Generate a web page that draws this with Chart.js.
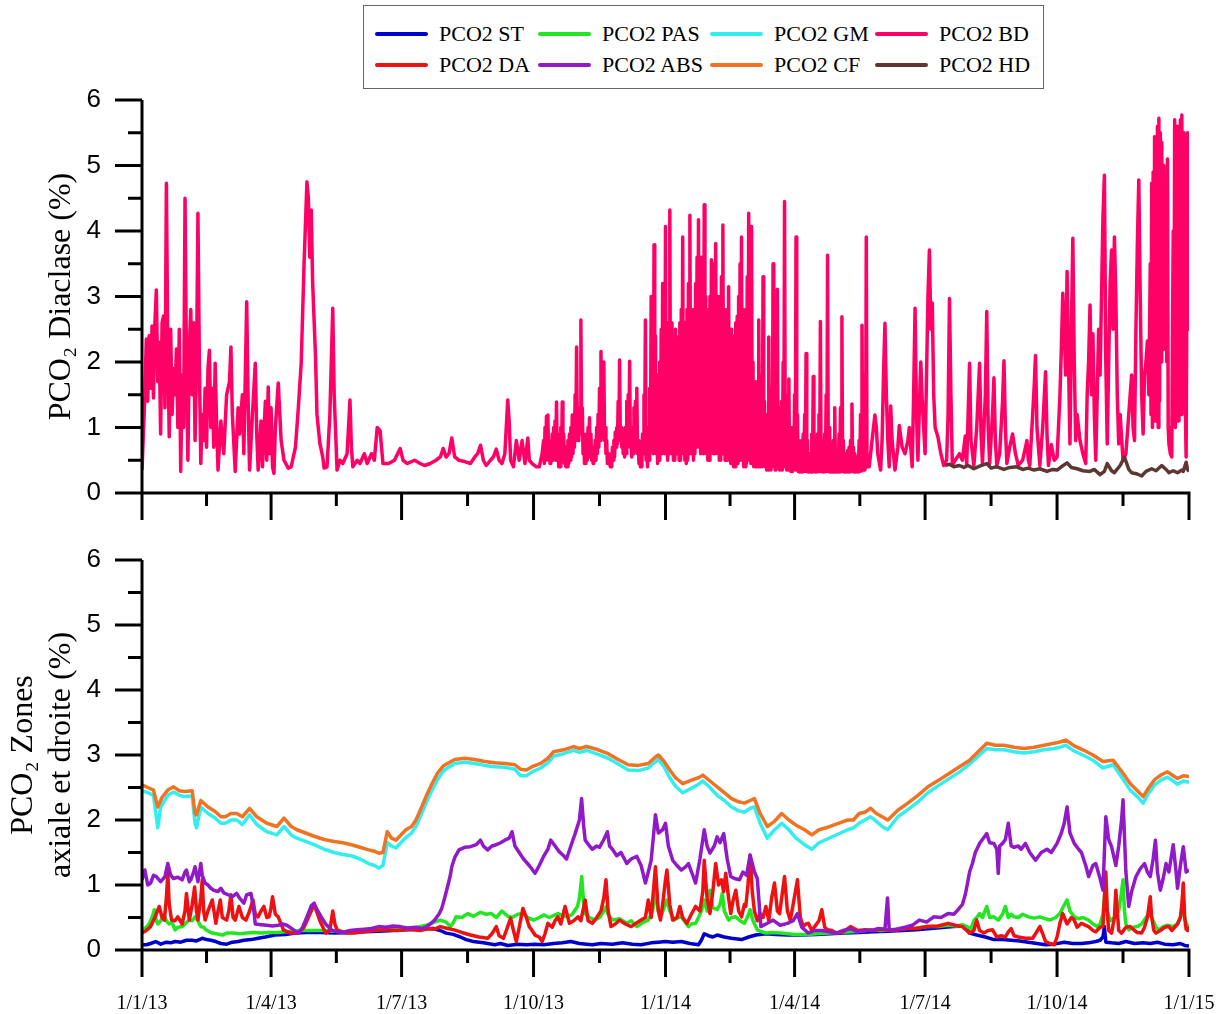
<!DOCTYPE html>
<html>
<head>
<meta charset="utf-8">
<script src="https://cdn.jsdelivr.net/npm/chart.js"></script>
<style>
  html, body { margin: 0; padding: 0; background: #fff; }
  #page { position: relative; width: 1225px; height: 1014px; background: #fff; overflow: hidden; }
  #legend { position: absolute; left: 363px; top: 5px; width: 679px; height: 82px; border: 1px solid #666; }
  .item { position: absolute; height: 28px; display: flex; align-items: center; font-family: 'Liberation Serif', serif; font-size: 22px; color: #000; white-space: nowrap; }
  .item span.line { display: inline-block; width: 53px; height: 4px; border-radius: 2px; margin-right: 11px; }
  #topBox { position: absolute; left: 0; top: 80px; width: 1225px; height: 450px; }
  #bottomBox { position: absolute; left: 0; top: 530px; width: 1225px; height: 484px; }
</style>
</head>
<body>
<div id="page">
  <div id="legend"></div>
  <div id="topBox"><canvas id="topChart"></canvas></div>
  <div id="bottomBox"><canvas id="bottomChart"></canvas></div>
</div>
<script>
// x values are days since 1/1/13
const xTickDays = [0, 90, 181, 273, 365, 455, 546, 638, 730];
const xTickLabels = ['1/1/13', '1/4/13', '1/7/13', '1/10/13', '1/1/14', '1/4/14', '1/7/14', '1/10/14', '1/1/15'];
const xMinorDays = [45, 135.5, 227, 319, 410, 500.5, 592, 684];

const seriesNames = ['PCO2 ST', 'PCO2 PAS', 'PCO2 GM', 'PCO2 BD', 'PCO2 DA', 'PCO2 ABS', 'PCO2 CF', 'PCO2 HD'];
const seriesColors = ['rgb(0,0,205)', 'rgb(34,230,34)', 'rgb(51,238,238)', 'rgb(255,0,102)',
                      'rgb(238,17,17)', 'rgb(145,25,200)', 'rgb(240,115,35)', 'rgb(95,55,50)'];

// top panel, PCO2 BD read in four stretches
const bdSpring2013 = [[0,0.35],[2,1.5],[3,2.35],[4,1.4],[5,2.4],[6,1.6],[7,2.55],[8,1.45],[9,2.6],[10,3.1],[11,1.7],[12,2.3],[13,0.9],[14,2.6],[15,2.7],[16,1.3],[17,4.73],[18,2.2],[19,0.86],[20,2.5],[21,1.2],[22,1.9],[23,1.5],[24,2.2],[25,1.0],[26,2.5],[27,0.33],[28,1.8],[29,1.0],[30,4.5],[31,2.0],[32,0.5],[33,2.2],[34,2.8],[35,1.5],[36,2.6],[37,0.8],[38,1.9],[39,4.27],[40,2.0],[41,0.45],[42,1.2],[43,0.8],[44,1.6],[45,0.7],[46,1.9],[47,2.18],[48,1.0],[49,1.6],[50,0.7],[51,1.98],[52,1.1],[53,0.35],[55,1.1],[57,0.6],[59,1.5],[61,1.7],[62,2.23],[63,1.2],[65,0.33],[67,1.3],[68,0.9],[70,1.5],[71,0.6],[73,2.92],[74,1.4],[75,0.35],[77,1.2],[79,1.98],[80,0.9],[81,0.35],[83,1.1],[84,0.4],[86,1.4],[87,0.5],[88,1.62],[89,0.6],[90,1.3],[91,0.4],[92,0.3],[93,1.0],[95,1.68],[97,0.8],[99,0.5],[102,0.38],[104,0.4],[107,0.7],[109,1.3],[111,1.98],[113,3.5],[115,4.75],[116,4.5],[117,3.6],[118,4.32],[119,3.2],[121,2.08],[122,1.2],[124,0.76],[126,0.55],[127,0.38],[129,0.4],[131,1.2],[133,2.82],[134,1.5],[136,0.35],[138,0.5],[140,0.45],[143,0.6],[145,1.42],[146,0.7],[147,0.4],[150,0.5],[152,0.45],[155,0.6],[157,0.45],[160,0.6],[162,0.5],[164,1.0],[166,0.95],[168,0.45],[172,0.45],[176,0.5],[180,0.68],[182,0.5],[185,0.45],[190,0.5],[194,0.45],[197,0.42],[201,0.45],[205,0.5],[208,0.55],[210,0.68],[212,0.55],[214,0.6],[216,0.84],[218,0.55],[221,0.5],[225,0.48],[229,0.45],[232,0.55],[234,0.6],[236,0.73],[238,0.5],[240,0.42],[243,0.5],[245,0.55],[247,0.67],[249,0.5],[251,0.45],[253,0.6],[255,1.42],[256,1.1],[257,0.5],[259,0.4],[261,0.8],[263,0.5],[265,0.8],[267,0.45],[269,0.84],[270,0.5],[272,0.45],[275,0.4],[277,0.4],[279,0.6]];
const bdAutumn2013 = [[280,0.8],[280.5,0.45],[281,1.0],[281.5,0.5],[282,1.17],[282.5,0.6],[283,1.19],[283.5,0.5],[284,0.8],[284.5,0.45],[285,0.7],[285.5,0.5],[286,0.9],[286.5,0.5],[287,1.0],[287.5,0.55],[288,1.1],[288.5,0.5],[289,1.39],[289.5,0.6],[290,0.9],[290.5,0.4],[291,0.6],[291.5,0.4],[292,1.0],[292.5,0.5],[293,1.39],[293.5,0.55],[294,0.9],[294.5,0.45],[295,0.7],[295.5,0.4],[296,0.6],[296.5,0.4],[297,0.8],[297.5,0.45],[298,0.9],[298.5,0.5],[299,1.0],[299.5,0.55],[300,1.19],[300.5,0.6],[301,1.0],[301.5,0.7],[302,1.5],[302.5,0.8],[303,2.23],[303.5,0.9],[304,1.3],[304.5,0.8],[305,1.2],[305.5,0.9],[306,2.64],[306.5,1.0],[307,1.3],[307.5,0.6],[308,0.9],[308.5,0.45],[309,0.7],[309.5,0.45],[310,0.9],[310.5,0.5],[311,1.0],[311.5,0.6],[312,1.15],[312.5,0.55],[313,0.9],[313.5,0.5],[314,0.7],[314.5,0.45],[315,0.6],[315.5,0.5],[316,0.8],[316.5,0.5],[317,1.0],[317.5,0.6],[318,1.2],[318.5,0.7],[319,1.6],[319.5,0.8],[320,2.16],[320.5,0.9],[321,1.3],[321.5,1.0],[322,2.0],[322.5,0.8],[323,1.0],[323.5,0.6],[324,0.8],[324.5,0.45],[325,0.6],[325.5,0.45],[326,0.5],[326.5,0.4],[327,0.45],[327.5,0.4],[328,0.7],[328.5,0.5],[329,0.8],[329.5,0.55],[330,0.93],[330.5,0.7],[331,1.0],[331.5,0.75],[332,1.4],[332.5,0.85],[333,2.03],[333.5,0.8],[334,1.0],[334.5,0.7],[335,0.9],[335.5,0.6],[336,0.85],[336.5,0.55],[337,1.0],[337.5,0.6],[338,1.4],[338.5,0.7],[339,1.5],[339.5,0.8],[340,2.01],[340.5,0.7],[341,0.78],[341.5,0.55],[342,1.0],[342.5,0.6],[343,1.3],[343.5,0.7],[344,1.4],[344.5,0.8],[345,1.6],[345.5,0.6],[346,0.8],[346.5,0.45],[347,0.6],[347.5,0.4],[348,0.5],[348.5,0.4],[349,0.9],[349.5,0.6],[350,1.5],[350.5,0.9],[351,2.64],[351.5,0.5],[352,0.6],[352.5,0.4],[353,1.0],[353.5,0.5],[354,1.6],[354.5,0.7],[355,3.0],[355.5,0.8]];
const bdWinter2014 = [[356,2.0],[356.5,0.6],[357,3.79],[357.5,0.7],[358,2.4],[358.5,0.6],[359,1.5],[359.5,0.45],[360,1.8],[360.5,0.5],[361,2.0],[361.5,0.6],[362,2.5],[362.5,0.6],[363,3.2],[363.5,0.7],[364,2.8],[364.5,0.6],[365,4.07],[365.5,0.7],[366,2.2],[366.5,0.5],[367,2.6],[367.5,0.6],[368,4.32],[368.5,0.8],[369,2.6],[369.5,0.6],[370,2.0],[370.5,0.5],[371,2.3],[371.5,0.5],[372,2.5],[372.5,0.6],[373,2.38],[373.5,0.6],[374,2.2],[374.5,0.5],[375,2.6],[375.5,0.5],[376,2.8],[376.5,0.6],[377,3.91],[377.5,0.7],[378,2.6],[378.5,0.5],[379,2.4],[379.5,0.45],[380,2.8],[380.5,0.5],[381,3.2],[381.5,0.6],[382,4.24],[382.5,0.8],[383,2.8],[383.5,0.6],[384,2.5],[384.5,0.5],[385,2.8],[385.5,0.6],[386,3.2],[386.5,0.7],[387,3.6],[387.5,0.8],[388,4.17],[388.5,0.7],[389,3.0],[389.5,0.6],[390,3.6],[390.5,0.7],[391,3.4],[391.5,0.6],[392,4.4],[392.5,0.9],[393,3.0],[393.5,0.6],[394,2.6],[394.5,0.5],[395,2.8],[395.5,0.5],[396,3.0],[396.5,0.6],[397,3.56],[397.5,0.7],[398,3.5],[398.5,0.6],[399,3.0],[399.5,0.6],[400,3.81],[400.5,0.7],[401,3.0],[401.5,0.6],[402,2.8],[402.5,0.5],[403,3.0],[403.5,0.5],[404,3.3],[404.5,0.6],[405,4.09],[405.5,0.6],[406,2.8],[406.5,0.5],[407,2.6],[407.5,0.5],[408,2.8],[408.5,0.5],[409,3.15],[409.5,0.5],[410,2.4],[410.5,0.45],[411,2.5],[411.5,0.45],[412,2.3],[412.5,0.4],[413,2.4],[413.5,0.4],[414,2.6],[414.5,0.45],[415,2.7],[415.5,0.45],[416,3.0],[416.5,0.5],[417,3.5],[417.5,0.5],[418,3.91],[418.5,0.5],[419,2.8],[419.5,0.4],[420,2.5],[420.5,0.4],[421,2.8],[421.5,0.45],[422,3.3],[422.5,0.5],[423,4.27],[423.5,0.5],[424,3.4],[424.5,0.45],[425,4.07],[425.5,0.5],[426,2.0],[426.5,0.4],[427,1.4],[427.5,0.4],[428,1.7],[428.5,0.4],[429,1.2],[429.5,0.4],[430,2.64],[430.5,0.4],[431,1.5],[431.5,0.4],[432,1.8],[432.5,0.4],[433,3.3],[433.5,0.45],[434,1.4],[434.5,0.4],[435,1.06],[435.5,0.35],[436,1.2],[436.5,0.35],[437,2.38],[437.5,0.4],[438,1.3],[438.5,0.35],[439,1.6],[439.5,0.4],[440,3.5],[440.5,0.4],[441,1.2],[441.5,0.35],[442,2.8],[442.5,0.4],[443,3.11],[443.5,0.4],[444,1.3],[444.5,0.35],[445,1.0],[445.5,0.35],[446,1.4],[446.5,0.35],[447,2.0],[447.5,0.4],[448,4.45],[448.5,0.4],[449,1.5],[449.5,0.35],[450,1.2],[450.5,0.35],[451,1.74],[451.5,0.35],[452,1.0],[452.5,0.33],[453,0.8],[453.5,0.33],[454,1.0],[454.5,0.35],[455,1.5],[455.5,0.35],[456,3.91],[456.5,0.35],[457,1.2],[457.5,0.33],[458,0.8],[458.5,0.32],[459,0.7],[459.5,0.32],[460,0.8],[460.5,0.32],[461,0.9],[461.5,0.33],[462,1.2],[462.5,0.33],[463,2.13],[463.5,0.33],[464,0.8],[464.5,0.32],[465,0.6],[465.5,0.32],[466,0.6],[466.5,0.32],[467,0.9],[467.5,0.32],[468,1.78],[468.5,0.33],[469,0.7],[469.5,0.32],[470,0.6],[470.5,0.32],[471,0.9],[471.5,0.33],[472,1.2],[472.5,0.33],[473,2.62],[473.5,0.33],[474,0.8],[474.5,0.32],[475,0.6],[475.5,0.32],[476,0.9],[476.5,0.33],[477,1.5],[477.5,0.33],[478,3.63],[478.5,0.33],[479,1.0],[479.5,0.32],[480,0.6],[480.5,0.32],[481,0.7],[481.5,0.32],[482,0.8],[482.5,0.32],[483,1.3],[483.5,0.32],[484,0.6],[484.5,0.32],[485,0.55],[485.5,0.32],[486,0.9],[486.5,0.32],[487,1.3],[487.5,0.33],[488,2.69],[488.5,0.33],[489,0.8],[489.5,0.32],[490,0.55],[490.5,0.32],[491,0.6],[491.5,0.32],[492,0.65],[492.5,0.32],[493,0.7],[493.5,0.32],[494,0.8],[494.5,0.33],[495,1.36],[495.5,0.33],[496,0.7],[496.5,0.32],[497,0.6],[497.5,0.32],[498,0.55],[498.5,0.32],[499,0.55],[499.5,0.32],[500,0.8],[500.5,0.33],[501,1.2],[501.5,0.34],[502,2.56],[502.5,0.35],[503,1.2],[503.5,0.35],[504,1.8],[504.5,0.38],[505,3.91],[505.5,0.4]];
const bdLate2014 = [[507,0.4],[509,0.8],[511,1.19],[512,1.0],[513,0.6],[515,0.35],[516,0.8],[517,1.8],[518,2.59],[519,1.5],[520,0.8],[521,0.4],[522,1.33],[523,0.8],[525,0.35],[527,0.7],[528,1.03],[530,0.7],[532,0.6],[534,0.8],[535,1.0],[536,0.7],[537,0.4],[538,1.5],[539,2.82],[540,1.2],[541,0.5],[542,1.3],[543,2.0],[544,1.4],[546,0.6],[547,1.8],[548,3.0],[549,3.71],[550,2.5],[551,2.9],[552,1.5],[553,1.0],[555,0.85],[557,0.6],[559,0.42],[561,0.5],[562,1.17],[563,2.97],[564,1.5],[565,0.42],[567,0.5],[570,0.6],[572,0.5],[574,0.87],[575,0.42],[576,1.2],[577,1.98],[578,0.8],[580,0.42],[582,1.0],[584,1.98],[585,0.9],[586,0.45],[588,1.5],[589,2.77],[590,1.0],[591,0.45],[593,1.2],[594,1.76],[595,0.8],[596,0.42],[598,0.6],[600,1.4],[601,2.02],[602,1.0],[603,0.45],[605,0.7],[607,0.9],[609,0.6],[611,0.42],[614,0.5],[617,0.8],[618,0.5],[619,0.42],[621,1.2],[622,1.6],[623,2.1],[624,1.0],[626,0.42],[628,1.0],[630,1.85],[631,0.9],[632,0.42],[634,0.74],[636,0.5],[638,0.55],[639,1.0],[640,1.48],[641,2.2],[642,3.05],[643,2.5],[644,1.8],[645,3.38],[646,2.0],[647,0.75],[648,2.5],[649,3.89],[650,2.0],[651,0.8],[652,1.2],[654,0.8],[656,0.6],[658,0.45],[659,1.5],[660,2.0],[661,2.87],[662,1.5],[663,2.43],[664,1.2],[665,0.5],[666,1.5],[667,2.5],[668,1.8],[669,3.0],[670,4.2],[671,4.85],[672,2.0],[673,0.75],[674,2.0],[675,3.2],[676,3.71],[677,2.5],[678,3.91],[679,3.0],[680,1.5],[681,0.75],[682,1.2],[684,0.5],[686,0.6],[688,1.2],[689,1.5],[690,1.8],[691,1.0],[692,0.8],[693,2.5],[694,3.8],[695,4.78],[696,3.0],[697,1.5],[698,0.9],[699,1.8],[700,2.0],[701,2.32],[702,1.5],[703,3.5],[703.5,1.2],[704,4.73],[704.5,1.0],[705,4.9],[705.5,1.3],[706,5.44],[706.5,1.1],[707,5.3],[707.5,1.5],[708,5.6],[708.5,1.0],[709,5.72],[709.5,1.4],[710,5.5],[710.5,2.0],[711,5.35],[711.5,2.5],[712,5.0],[712.5,2.2],[713,4.6],[713.5,3.3],[714,4.8],[714.5,2.0],[715,5.1],[715.5,1.0],[716,0.75],[717,0.6],[718,0.55],[718.5,2.5],[719,4.0],[719.5,1.2],[720,5.7],[720.5,1.0],[721,5.3],[721.5,1.5],[722,5.6],[722.5,1.1],[723,5.5],[723.5,1.4],[724,5.7],[724.5,1.2],[725,5.77],[725.5,1.6],[726,5.5],[726.5,2.0],[727,2.0],[728,0.55],[729,5.5],[729.5,2.5],[730,3.85]];
const pco2BD = [].concat(bdSpring2013, bdAutumn2013, bdWinter2014, bdLate2014);
const pco2HD = [[560,0.42],[563,0.44],[566,0.4],[570,0.42],[573,0.39],[576,0.42],[580,0.37],[584,0.41],[589,0.45],[592,0.38],[596,0.4],[601,0.36],[605,0.39],[610,0.4],[614,0.36],[618,0.38],[622,0.35],[626,0.37],[631,0.33],[635,0.36],[638,0.35],[641,0.4],[645,0.46],[648,0.39],[652,0.37],[656,0.34],[661,0.33],[664,0.36],[668,0.28],[671,0.33],[673,0.45],[676,0.34],[678,0.31],[682,0.42],[685,0.55],[688,0.36],[690,0.31],[694,0.29],[697,0.26],[700,0.33],[704,0.37],[707,0.34],[711,0.42],[714,0.36],[716,0.31],[719,0.34],[722,0.31],[725,0.35],[726,0.33],[728,0.47],[729,0.36],[730,0.33]];

// bottom panel
const pco2ST = [[0,0.08],[3,0.08],[6,0.1],[9.6,0.13],[13,0.09],[17,0.12],[20,0.11],[23,0.13],[27,0.12],[31,0.15],[35,0.15],[38,0.14],[42,0.18],[45,0.16],[48,0.15],[51.5,0.13],[55,0.1],[59,0.09],[63,0.12],[67,0.13],[71,0.15],[76,0.16],[81,0.18],[86,0.2],[92.6,0.23],[100,0.24],[107,0.26],[115,0.27],[125,0.27],[135,0.26],[145,0.27],[155,0.28],[165,0.29],[175,0.3],[185,0.31],[195,0.32],[203,0.33],[208,0.3],[212,0.26],[217,0.24],[222,0.2],[226,0.16],[231,0.13],[238,0.11],[246,0.08],[250,0.1],[255,0.07],[262,0.09],[268,0.08],[274,0.09],[280,0.08],[287,0.1],[293,0.11],[299,0.13],[305,0.1],[310,0.09],[314,0.08],[320,0.1],[328,0.09],[335,0.11],[342,0.09],[348,0.08],[355,0.11],[360,0.12],[365,0.13],[370,0.12],[376,0.13],[382,0.1],[388,0.08],[390,0.15],[392,0.25],[395,0.22],[398,0.2],[401,0.23],[406,0.2],[411,0.18],[418,0.16],[423,0.2],[428,0.23],[435,0.25],[442,0.24],[450,0.23],[460,0.23],[470,0.24],[480,0.25],[490,0.26],[500,0.27],[510,0.28],[520,0.29],[530,0.3],[540,0.31],[550,0.33],[560,0.35],[566,0.36],[572,0.37],[575,0.32],[577,0.26],[582,0.23],[588,0.2],[594,0.16],[600,0.16],[606,0.15],[612,0.14],[618,0.12],[624,0.1],[630,0.08],[636,0.09],[643,0.12],[649,0.1],[655,0.1],[660,0.11],[665,0.13],[668,0.15],[670,0.2],[671,0.36],[672,0.12],[676,0.11],[681,0.1],[686,0.13],[692,0.1],[698,0.11],[703,0.1],[708,0.12],[713,0.09],[719,0.08],[724,0.1],[727,0.07],[730,0.06]];
const pco2PAS = [[0,0.31],[3,0.35],[5,0.4],[7,0.5],[8.6,0.62],[10,0.45],[11,0.4],[13,0.45],[15.6,0.54],[17,0.45],[19,0.4],[21,0.42],[23,0.31],[25,0.35],[28,0.36],[30,0.4],[32.6,0.46],[35,0.45],[37,0.51],[39,0.45],[41,0.36],[43,0.35],[44.6,0.31],[47,0.28],[49,0.26],[52,0.25],[56,0.23],[59,0.26],[63.6,0.26],[68,0.25],[73,0.26],[78,0.27],[83,0.26],[88,0.27],[95,0.27],[100,0.28],[104,0.28],[110,0.3],[118,0.3],[126,0.3],[134,0.29],[142,0.28],[150,0.3],[158,0.31],[166,0.32],[174,0.32],[182,0.33],[190,0.34],[198,0.38],[203,0.42],[208,0.46],[212,0.43],[215,0.36],[217,0.42],[219,0.51],[223,0.5],[227,0.56],[231,0.52],[236,0.58],[240,0.55],[243.6,0.56],[247,0.5],[251,0.6],[255,0.52],[258,0.5],[262,0.55],[265.6,0.56],[269,0.5],[273,0.46],[277,0.5],[280,0.54],[284,0.5],[290,0.56],[294,0.52],[297,0.51],[300,0.55],[303.6,0.67],[305,0.8],[306.6,1.13],[308,0.7],[309,0.56],[312,0.5],[316,0.46],[319,0.5],[322,0.6],[323.5,0.67],[325,0.55],[328,0.46],[333,0.48],[338,0.41],[341,0.45],[345,0.36],[349,0.42],[353,0.46],[356,0.6],[358,0.87],[360,0.6],[362.5,0.56],[364,0.65],[366,0.77],[368,0.6],[371,0.46],[374,0.5],[376,0.51],[378,0.45],[381,0.36],[383,0.4],[386,0.41],[388,0.5],[390,0.6],[392,0.77],[394,0.6],[396,0.92],[398,0.65],[401,0.62],[403,0.7],[404.6,0.87],[406,0.6],[409,0.46],[411,0.5],[414,0.51],[417,0.45],[420,0.41],[422,0.5],[424,0.62],[426,0.45],[429,0.31],[432,0.28],[435,0.26],[440,0.27],[445,0.26],[450,0.25],[455,0.24],[460,0.24],[464,0.24],[470,0.25],[479,0.26],[487,0.27],[494,0.28],[501,0.29],[508,0.31],[515,0.3],[521,0.31],[527,0.32],[532,0.33],[540,0.34],[547,0.36],[555,0.36],[562,0.38],[568,0.37],[572,0.39],[575,0.36],[578,0.33],[580,0.45],[582,0.5],[584,0.56],[586,0.5],[589,0.67],[591,0.5],[594,0.51],[597,0.46],[600,0.55],[602,0.67],[604,0.5],[606,0.55],[608,0.51],[611,0.5],[614,0.55],[618,0.51],[622,0.49],[626,0.51],[630,0.48],[633,0.46],[637,0.5],[640,0.56],[642,0.65],[645,0.77],[647,0.6],[650,0.51],[653,0.48],[656,0.5],[660,0.46],[663,0.4],[666,0.36],[668,0.4],[670,0.55],[672,1.03],[673,0.6],[675,0.45],[676,0.46],[678,0.5],[679,0.56],[681,0.6],[683,0.9],[684,1.08],[685,0.6],[686,0.4],[688,0.31],[691,0.35],[694,0.36],[697,0.4],[700,0.5],[703,0.56],[705,0.45],[707,0.35],[709,0.31],[712,0.36],[715,0.38],[719,0.36],[722,0.4],[724,0.5],[726,0.67],[727,0.5],[728,0.4],[730,0.36]];
const pco2GM = [[0,2.45],[4,2.42],[8,2.38],[11,1.88],[13,2.2],[18,2.38],[22,2.43],[26,2.38],[30,2.36],[35,2.37],[37,1.95],[38,1.88],[41,2.2],[46,2.1],[51,2.03],[55,1.95],[58,1.95],[62,2.0],[66,2.0],[70,1.93],[75,2.08],[80,1.93],[87,1.82],[94,1.77],[99,1.9],[104,1.77],[108,1.72],[114,1.67],[120,1.62],[127,1.55],[134,1.5],[140,1.47],[146,1.45],[152,1.4],[158,1.33],[162,1.3],[165,1.26],[168,1.3],[171,1.65],[174,1.6],[177,1.57],[181,1.66],[184,1.73],[188,1.8],[191,1.9],[195,2.1],[198,2.26],[202,2.45],[206,2.62],[210,2.75],[213,2.8],[218,2.87],[225,2.89],[232,2.87],[239,2.84],[246,2.82],[253,2.81],[260,2.78],[264,2.68],[268,2.68],[272,2.74],[278,2.8],[283,2.88],[287,2.98],[294,3.02],[301,3.07],[305,3.04],[310,3.07],[318,3.01],[325,2.95],[332,2.86],[339,2.77],[346,2.76],[353,2.8],[357,2.88],[360,2.93],[364,2.82],[368,2.65],[372,2.52],[377,2.42],[384,2.5],[388,2.55],[391,2.6],[396,2.5],[401,2.38],[406,2.3],[411,2.2],[416,2.14],[420,2.12],[424,2.18],[427,2.2],[431,1.95],[436,1.72],[441,1.85],[446,1.95],[451,1.85],[456,1.72],[462,1.62],[467,1.55],[472,1.65],[477,1.7],[482,1.75],[487,1.8],[492,1.85],[496,1.88],[500,1.95],[504,2.0],[508,2.05],[512,1.98],[516,1.9],[520,1.85],[527,2.05],[534,2.16],[541,2.28],[548,2.42],[556,2.54],[563,2.64],[570,2.74],[577,2.86],[583,2.98],[589,3.1],[595,3.08],[601,3.08],[608,3.05],[615,3.03],[622,3.05],[629,3.08],[636,3.1],[640,3.12],[644,3.15],[650,3.06],[656,3.0],[663,2.92],[670,2.8],[677,2.85],[683,2.66],[689,2.46],[694,2.36],[698,2.26],[702,2.42],[706,2.54],[711,2.62],[715,2.66],[719,2.6],[722,2.55],[726,2.6],[730,2.58]];
const pco2DA = [[0,0.26],[3,0.3],[6,0.36],[9,0.5],[12,0.67],[14,0.5],[15.6,0.46],[17,0.8],[18,1.18],[19,0.7],[20.6,0.46],[23,0.45],[25,0.51],[28,0.4],[30,0.6],[31,0.87],[33,0.46],[35,0.7],[36.7,0.97],[38,0.6],[39,0.46],[41,0.8],[42,1.08],[43,0.6],[44,0.46],[46,0.6],[49,0.77],[51.5,0.41],[53,0.6],[54.6,0.77],[56,0.5],[59,0.46],[60.5,0.6],[62,0.85],[63.5,0.5],[65,0.46],[67.6,0.67],[70,0.5],[72.5,0.46],[75,0.6],[77.4,0.77],[79,0.55],[81,0.51],[83,0.6],[85,0.67],[87,0.5],[88.6,0.51],[90,0.65],[91,0.82],[93,0.55],[95,0.51],[98.6,0.31],[103.6,0.26],[109,0.26],[113,0.35],[117,0.55],[120,0.7],[124,0.45],[128,0.26],[131,0.3],[133,0.6],[134.5,0.4],[136,0.31],[142,0.26],[148,0.26],[155,0.28],[162,0.3],[170,0.31],[178,0.3],[186,0.32],[194,0.3],[200,0.33],[204,0.32],[208,0.36],[213,0.33],[217.6,0.31],[223,0.27],[229,0.23],[235,0.2],[241,0.18],[244,0.25],[247,0.36],[249,0.22],[252,0.18],[254,0.3],[257,0.49],[259,0.3],[261,0.13],[263,0.35],[265.6,0.64],[268,0.5],[270,0.36],[272,0.3],[274,0.23],[277,0.2],[279,0.13],[281,0.25],[283,0.41],[286,0.35],[288,0.45],[290,0.51],[292,0.4],[295,0.67],[298,0.41],[301,0.45],[304,0.51],[306,0.45],[309,0.77],[311,0.45],[314,0.41],[317,0.5],[320,0.6],[322,0.8],[323.5,1.08],[325,0.6],[327,0.36],[330,0.4],[333,0.46],[337,0.4],[341,0.36],[345,0.42],[348,0.46],[351,0.5],[353,0.77],[355,0.5],[358,1.28],[360,0.6],[361.5,0.46],[363,0.7],[365,1.08],[366,1.23],[368,0.7],[370,0.46],[373,0.5],[375,0.67],[377,0.5],[380,0.41],[383,0.55],[386,0.67],[389,0.6],[391,0.9],[392,1.38],[394,0.8],[396,0.56],[398,0.9],[400,1.33],[402,1.0],[404,1.08],[405.5,0.9],[407,1.18],[409,0.8],[410.5,0.56],[412,0.75],[414,0.92],[416,0.6],[418,0.51],[420,0.7],[421,0.67],[422.5,1.0],[424,1.46],[425.5,0.9],[427,0.6],[429,0.45],[431,0.56],[433,0.5],[435,0.67],[437,0.45],[439,0.8],[441,1.03],[443,0.6],[444.6,0.56],[446,0.8],[448,1.13],[450,0.6],[452,0.46],[454,0.7],[457,1.08],[459,0.5],[461,0.36],[463,0.4],[464.6,0.41],[467,0.3],[469,0.36],[472,0.45],[474,0.62],[476,0.35],[478,0.31],[481,0.3],[484,0.26],[489,0.28],[494,0.36],[499,0.3],[504,0.31],[510,0.3],[515,0.32],[519,0.31],[525,0.3],[532,0.33],[540,0.33],[547,0.36],[555,0.37],[562,0.41],[567,0.38],[572,0.36],[575,0.3],[577,0.26],[580,0.3],[582,0.46],[584,0.3],[587,0.26],[590,0.3],[593,0.31],[596,0.2],[599,0.22],[602,0.2],[604,0.28],[606,0.33],[608,0.22],[611,0.2],[616,0.18],[621,0.18],[623,0.25],[626,0.36],[628,0.25],[630,0.13],[633,0.1],[636,0.08],[638,0.2],[640,0.41],[642,0.56],[644,0.45],[645,0.4],[648,0.5],[650,0.46],[652,0.35],[655,0.41],[658,0.38],[660,0.36],[663,0.3],[665,0.28],[668,0.35],[670,0.36],[671,0.8],[672,1.2],[673,0.6],[674,0.3],[676,0.26],[678,0.5],[679,0.92],[680,0.6],[681,0.3],[683,0.26],[686,0.35],[689,0.36],[692,0.3],[694,0.27],[697,0.26],[699,0.35],[701,0.5],[703,0.82],[704,0.5],[705.5,0.3],[707,0.26],[710,0.3],[713,0.35],[716,0.36],[718,0.3],[720,0.35],[722,0.4],[724,0.5],[725,0.7],[726,1.03],[727,0.5],[728,0.32],[729,0.3],[730,0.36]];
const pco2ABS = [[0,1.08],[2,1.23],[4,1.0],[6,1.03],[8,1.15],[10,1.13],[13,1.05],[16,1.13],[18,1.33],[20,1.15],[22,1.1],[25,1.12],[28,1.08],[30,1.2],[31,1.23],[33,1.05],[34,1.08],[36,1.2],[37,1.28],[39,1.05],[41,1.33],[42,1.15],[44,1.03],[46,1.0],[48,0.95],[50,0.92],[53,0.9],[55,0.95],[57,0.88],[60,0.85],[63,0.82],[66,0.87],[68,0.8],[71,0.72],[73,0.85],[76,0.87],[78,0.6],[79,0.4],[83,0.39],[87,0.38],[91,0.37],[95,0.38],[98,0.4],[101,0.38],[105,0.32],[109,0.26],[112,0.35],[115,0.51],[118,0.68],[120,0.72],[122,0.62],[125,0.51],[128,0.4],[132,0.31],[136,0.28],[140,0.27],[145,0.3],[150,0.31],[155,0.32],[160,0.33],[165,0.36],[170,0.35],[175,0.37],[180,0.36],[185,0.34],[191,0.35],[195,0.33],[198.5,0.36],[201,0.4],[204,0.46],[207,0.55],[209,0.64],[211,0.8],[213,0.97],[215,1.15],[216,1.28],[218,1.42],[221,1.54],[225,1.58],[229,1.59],[233,1.62],[236,1.69],[238,1.6],[241,1.54],[244,1.6],[247,1.62],[250,1.65],[253,1.69],[256,1.72],[258,1.82],[260,1.6],[263,1.5],[266,1.4],[270,1.3],[274,1.18],[277,1.3],[280,1.44],[283,1.55],[285,1.69],[288,1.6],[291,1.51],[294,1.45],[296,1.4],[299,1.6],[302,1.79],[305,2.0],[306.5,2.33],[308,1.9],[309,1.69],[312,1.6],[314,1.55],[317,1.6],[319,1.58],[322,1.7],[324.5,1.82],[326,1.6],[328,1.55],[331,1.45],[334,1.5],[338,1.33],[341,1.4],[345,1.44],[348,1.3],[351,1.03],[353,1.2],[355,1.38],[358,2.08],[360,1.8],[363,1.85],[365,1.95],[367,1.6],[370,1.38],[373,1.3],[376,1.23],[379,1.28],[381,1.33],[384,1.15],[386,1.03],[389,1.4],[392,1.85],[394,1.6],[396,1.49],[399,1.6],[401,1.74],[403,1.65],[405.6,1.79],[408,1.4],[410.5,1.13],[413,1.1],[416.6,1.08],[419,1.2],[421.5,1.15],[424,1.46],[427,1.2],[429,1.1],[431.5,0.36],[435,0.4],[440,0.46],[445,0.38],[450,0.41],[454,0.45],[457,0.56],[460,0.35],[464.6,0.26],[469,0.3],[474,0.3],[479,0.28],[484,0.26],[489,0.3],[494,0.33],[499,0.28],[504,0.3],[509,0.3],[513,0.33],[518,0.32],[519.8,0.8],[521,0.3],[526,0.32],[532,0.35],[537,0.38],[542,0.46],[547,0.43],[552,0.51],[557,0.5],[562,0.56],[566,0.55],[569,0.62],[572,0.7],[574,0.85],[575.6,1.03],[577,1.2],[579,1.33],[581,1.5],[584,1.64],[586,1.7],[589,1.79],[591,1.65],[594,1.64],[596,1.55],[597,1.18],[598,1.6],[600,1.64],[602,1.7],[604,1.95],[606,1.6],[608,1.58],[611,1.6],[613,1.55],[616,1.64],[619,1.5],[623,1.38],[627,1.5],[631,1.55],[634,1.5],[638,1.64],[641,1.8],[643,1.95],[645,2.2],[647,1.8],[650,1.64],[653,1.55],[655,1.5],[658,1.3],[660,1.13],[663,1.3],[665,1.33],[668,1.1],[670,0.92],[671,1.5],[672,2.05],[674,1.7],[676,1.59],[678,1.4],[679,1.3],[681,1.6],[683,2.0],[684,2.31],[686,1.2],[688,0.67],[690,0.9],[693,1.13],[696,1.25],[699,1.33],[701,1.2],[703,1.13],[705,1.4],[706.6,1.69],[708,1.2],[710,0.92],[712,1.1],[714,1.33],[716,1.2],[719,1.62],[721,1.2],[722,0.95],[724,1.3],[726,1.59],[728,1.2],[730,1.23]];
const pco2CF = [[0,2.54],[4,2.5],[8,2.46],[11,2.2],[14,2.35],[18,2.46],[22,2.51],[26,2.45],[30,2.44],[35,2.45],[37,2.1],[38,2.08],[41,2.3],[46,2.2],[51,2.13],[55,2.05],[58,2.05],[62,2.1],[66,2.1],[70,2.05],[75,2.18],[80,2.05],[87,1.95],[94,1.9],[99,2.03],[104,1.9],[108,1.85],[114,1.8],[120,1.75],[127,1.7],[134,1.67],[140,1.65],[146,1.62],[152,1.58],[158,1.54],[162,1.52],[165,1.49],[168,1.5],[171,1.82],[174,1.72],[177,1.69],[181,1.78],[184,1.85],[188,1.9],[191,2.0],[195,2.2],[198,2.36],[202,2.55],[206,2.72],[210,2.83],[213,2.87],[218,2.93],[225,2.95],[232,2.93],[239,2.9],[246,2.88],[253,2.87],[260,2.85],[264,2.78],[268,2.77],[272,2.82],[278,2.87],[283,2.95],[287,3.05],[294,3.08],[301,3.13],[305,3.1],[310,3.13],[318,3.08],[325,3.02],[332,2.93],[339,2.85],[346,2.84],[353,2.87],[357,2.95],[360,3.0],[364,2.9],[368,2.77],[372,2.65],[377,2.56],[384,2.62],[388,2.65],[391,2.69],[396,2.6],[401,2.51],[406,2.42],[411,2.33],[416,2.28],[420,2.26],[424,2.3],[427,2.33],[431,2.1],[436,1.9],[441,1.98],[446,2.1],[451,2.0],[456,1.92],[462,1.85],[467,1.77],[472,1.85],[477,1.88],[482,1.92],[487,1.96],[492,2.0],[496,2.0],[500,2.1],[504,2.12],[508,2.18],[512,2.1],[516,2.05],[520,2.0],[527,2.15],[534,2.26],[541,2.38],[548,2.51],[556,2.62],[563,2.72],[570,2.82],[577,2.92],[583,3.05],[589,3.18],[595,3.15],[601,3.15],[608,3.12],[615,3.1],[622,3.12],[629,3.15],[636,3.18],[640,3.2],[644,3.23],[650,3.14],[656,3.08],[663,3.0],[670,2.9],[677,2.92],[683,2.75],[689,2.56],[694,2.45],[698,2.36],[702,2.5],[706,2.62],[711,2.7],[715,2.74],[719,2.68],[722,2.64],[726,2.68],[730,2.67]];

Chart.defaults.font.family = "'Liberation Sans', Arial, sans-serif";
Chart.defaults.color = '#000';

// legend (HTML box above the two panels)
const legendCols = [11, 174, 346, 511];
const legendRows = [28, 59];
const legend = document.getElementById('legend');
seriesNames.forEach(function (name, i) {
    const item = document.createElement('div');
    item.className = 'item';
    item.style.left = legendCols[i % 4] + 'px';
    item.style.top = (legendRows[Math.floor(i / 4)] - 14) + 'px';
    item.innerHTML = '<span class="line" style="background:' + seriesColors[i] + '"></span>' + name;
    legend.appendChild(item);
});

function toPoints(pairs) {
    return pairs.map(function (p) { return { x: p[0], y: p[1] }; });
}

function makeDataset(idx, pairs, order, width) {
    return {
        label: seriesNames[idx],
        data: toPoints(pairs),
        borderColor: seriesColors[idx],
        backgroundColor: seriesColors[idx],
        borderWidth: width,
        borderJoinStyle: 'round',
        pointRadius: 0,
        tension: 0,
        fill: false,
        order: order
    };
}

// axis lines with long (major) and short (minor) outward ticks
const axisFrame = {
    id: 'axisFrame',
    afterDraw: (chart) => {
        const ctx = chart.ctx;
        const a = chart.chartArea;
        const xs = chart.scales.x;
        const ys = chart.scales.y;
        ctx.save();
        ctx.strokeStyle = '#000';
        ctx.lineWidth = 3;
        ctx.beginPath();
        ctx.moveTo(a.left, a.top);
        ctx.lineTo(a.left, a.bottom);
        ctx.moveTo(a.left - 1.5, a.bottom);
        ctx.lineTo(a.right + 1.5, a.bottom);
        ys.ticks.forEach(function (t) {
            const py = ys.getPixelForValue(t.value);
            const len = Number.isInteger(t.value) ? 27 : 14;
            ctx.moveTo(a.left - len, py);
            ctx.lineTo(a.left, py);
        });
        xTickDays.forEach(function (d) {
            const px = xs.getPixelForValue(d);
            ctx.moveTo(px, a.bottom);
            ctx.lineTo(px, a.bottom + 27);
        });
        xMinorDays.forEach(function (d) {
            const px = xs.getPixelForValue(d);
            ctx.moveTo(px, a.bottom);
            ctx.lineTo(px, a.bottom + 13);
        });
        ctx.stroke();
        ctx.restore();
    }
};

function makeOptions(titleText, titlePad, showXLabels, xHeight, topPad) {
    return {
        responsive: true,
        maintainAspectRatio: false,
        animation: false,
        layout: { padding: { top: topPad, right: 36, left: 0, bottom: 0 } },
        plugins: { legend: { display: false }, tooltip: { enabled: false } },
        scales: {
            x: {
                type: 'linear',
                min: 0,
                max: 730,
                grid: { display: false, drawTicks: false },
                border: { display: false },
                afterBuildTicks: (scale) => {
                    scale.ticks = xTickDays.map(function (d) { return { value: d }; });
                },
                afterFit: (scale) => {
                    scale.height = xHeight;
                    scale.paddingLeft = 0;
                    scale.paddingRight = 0;
                },
                ticks: {
                    display: showXLabels,
                    autoSkip: false,
                    maxRotation: 0,
                    padding: 42,
                    font: { family: "'Liberation Serif', 'Times New Roman', serif", size: 20 },
                    callback: function (value, index) { return xTickLabels[index]; }
                }
            },
            y: {
                min: 0,
                max: 6,
                grid: { display: false, drawTicks: false },
                border: { display: false },
                afterFit: (scale) => {
                    scale.width = 142;
                    scale.paddingTop = 0;
                    scale.paddingBottom = 0;
                },
                ticks: {
                    stepSize: 0.5,
                    autoSkip: false,
                    padding: 41,
                    font: { size: 26 },
                    callback: function (value) {
                        return Number.isInteger(value) ? String(value) : '';
                    }
                },
                title: {
                    display: true,
                    text: titleText,
                    color: '#000',
                    padding: { top: titlePad, bottom: 0 },
                    font: { family: "'Liberation Serif', 'Times New Roman', serif", size: 32, lineHeight: 1.2 }
                }
            }
        }
    };
}

let topChart = new Chart(document.getElementById('topChart'), {
    type: 'line',
    data: {
        datasets: [
            makeDataset(7, pco2HD, 1, 3.5),
            makeDataset(3, pco2BD, 2, 3.5)
        ]
    },
    options: makeOptions('PCO\u2082 Diaclase (%)', 42, false, 37, 20),
    plugins: [axisFrame]
});

let bottomChart = new Chart(document.getElementById('bottomChart'), {
    type: 'line',
    data: {
        datasets: [
            makeDataset(0, pco2ST, 6, 3.5),
            makeDataset(1, pco2PAS, 5, 3.5),
            makeDataset(2, pco2GM, 4, 3.5),
            makeDataset(4, pco2DA, 3, 3.5),
            makeDataset(5, pco2ABS, 2, 3.5),
            makeDataset(6, pco2CF, 1, 3.5)
        ]
    },
    options: makeOptions(['PCO\u2082 Zones', 'axiale et droite (%)'], 4, true, 64, 30),
    plugins: [axisFrame]
});
</script>
</body>
</html>
